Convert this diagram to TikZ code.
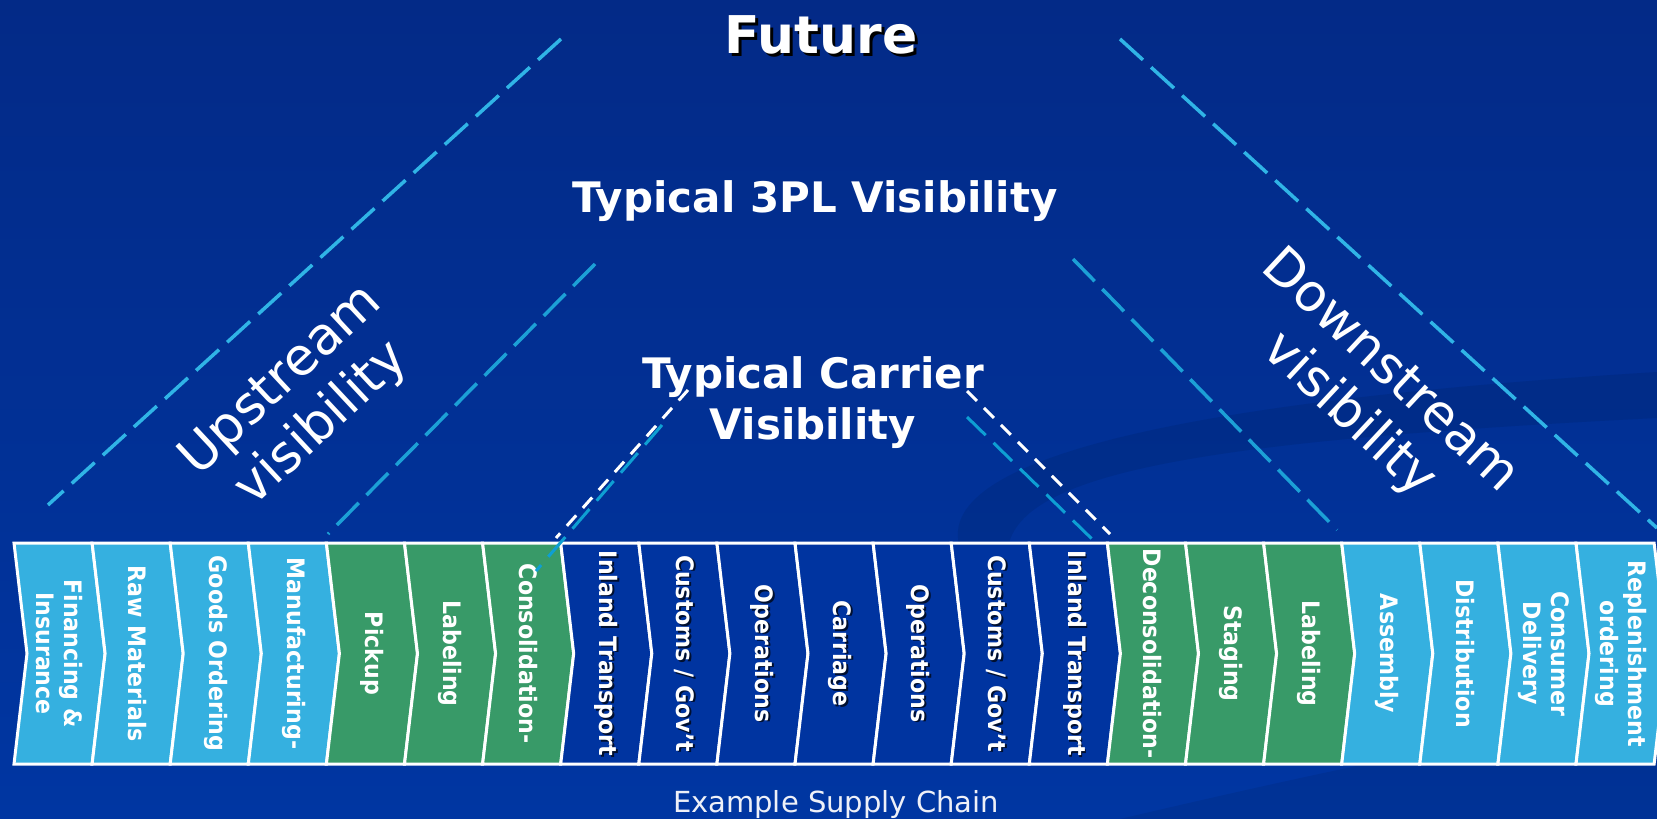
\documentclass[tikz,border=0pt]{standalone}
\usepackage{fontspec}
\setmainfont{DejaVu Sans}
\newfontfamily\chevfont{DejaVu Sans}[FakeStretch=0.92]
\usetikzlibrary{calc}
\definecolor{bgtop}{HTML}{032A87}
\definecolor{bgbot}{HTML}{0036A2}
\definecolor{lb}{HTML}{35B0E0}
\definecolor{gr}{HTML}{389A68}
\definecolor{db}{HTML}{0034A0}
\definecolor{futline}{HTML}{30B4E6}
\definecolor{tplline}{HTML}{1CA0D6}
\definecolor{carline}{HTML}{0E9FD3}
\definecolor{capt}{HTML}{EEF0F8}
\begin{document}
\begin{tikzpicture}[x=1pt,y=-1pt,
  chevbox/.style={draw=white, line width=3pt, line join=miter},
  chevtext/.style={text=white, font=\chevfont\bfseries\fontsize{24}{28}\selectfont, align=center, rotate=-90, inner sep=0pt},
  sidetext/.style={text=white, font=\fontsize{52}{60}\selectfont, align=center, inner sep=0pt},
  titletext/.style={text=white, font=\bfseries\fontsize{42}{51}\selectfont, align=center, inner sep=0pt},
  longdash/.style={line width=3.5pt, dash pattern=on 31pt off 11pt},
  shortdash/.style={line width=3pt, dash pattern=on 14pt off 10pt, white}
]
\useasboundingbox (0,0) rectangle (1657,819);
\clip (0,0) rectangle (1657,819);
\shade[top color=bgtop, bottom color=bgbot] (0,0) rectangle (1657,819);
% faint background swirl
\fill[black, opacity=0.08] (960,548) .. controls (935,470) and (1120,405) .. (1657,372) -- (1657,418) .. controls (1220,440) and (1020,470) .. (1008,548) -- cycle;
\fill[black, opacity=0.07] (1120,819) .. controls (1350,765) and (1500,735) .. (1657,712) -- (1657,819) -- cycle;
% chevrons
\foreach \lab/\col/\op [count=\i from 0] in {
  {Financing \&\\Insurance}/lb/0, {Raw Materials}/lb/0, {Goods Ordering}/lb/0, {Manufacturing-}/lb/0,
  {Pickup}/gr/0, {Labeling}/gr/0, {Consolidation-}/gr/0,
  {Inland Transport}/db/0.7, {Customs / Gov’t}/db/0.7, {Operations}/db/0.7, {Carriage}/db/0.7,
  {Operations}/db/0.7, {Customs / Gov’t}/db/0.7, {Inland Transport}/db/0.7,
  {Deconsolidation-}/gr/0, {Staging}/gr/0, {Labeling}/gr/0,
  {Assembly}/lb/0, {Distribution}/lb/0, {Consumer\\Delivery}/lb/0, {Replenishment\\ordering}/lb/0} {
  \pgfmathsetmacro\xa{14+\i*78.1}
  \pgfmathsetmacro\xb{\xa+78.1}
  \draw[chevbox, fill=\col] (\xa,543) -- (\xb,543) -- (\xb+13,653.5) -- (\xb,764) -- (\xa,764) -- (\xa+13,653.5) -- cycle;
  \node[chevtext, text=black, opacity=\op] (s\i) at (\xa+47,655) {\lab};
  \node[chevtext] (c\i) at (\xa+45.5,653.5) {\lab};
}
% visibility lines
\coordinate (fl1) at (561,39);   \coordinate (fl2) at (48,505);
\coordinate (fr1) at (1120,39);  \coordinate (fr2) at (1657,528);
\coordinate (tl1) at (595,264);  \coordinate (tl2) at (328,534);
\coordinate (tr1) at (1073,259); \coordinate (tr2) at (1337,530);
\coordinate (cwl1) at (688,390); \coordinate (cwl2) at (556,538);
\coordinate (ccl1) at (662,425); \coordinate (ccl2) at (536,571);
\coordinate (cwr1) at (967,391); \coordinate (cwr2) at (1110,534);
\coordinate (ccr1) at (967,417); \coordinate (ccr2) at (1093,540);
\draw[longdash, futline] (fl1) -- (fl2);
\draw[longdash, futline] (fr1) -- (fr2);
\draw[longdash, tplline] (tl1) -- (tl2);
\draw[longdash, tplline] (tr1) -- (tr2);
\draw[longdash, carline, line width=3pt, dash pattern=on 26pt off 11pt] (ccl1) -- (ccl2);
\draw[longdash, carline, line width=3pt, dash pattern=on 26pt off 11pt] (ccr1) -- (ccr2);
\draw[shortdash] (cwl1) -- (cwl2);
\draw[shortdash] (cwr1) -- (cwr2);
% titles
\node[titletext, text=black, font=\bfseries\fontsize{52}{60}\selectfont, anchor=base] (futs) at (824,56) {Future};
\node[titletext, font=\bfseries\fontsize{52}{60}\selectfont, anchor=base] (fut) at (821,53) {Future};
\node[titletext, anchor=base] (tpl) at (815,212) {Typical 3PL Visibility};
\node[titletext, anchor=north] (car) at (813,356) {Typical Carrier\\Visibility};
\node[sidetext, rotate=43] (up) at (302,403) {Upstream\\visibility};
\node[sidetext, rotate=-43] (down) at (1369,394) {Downstream\\visibility};
\node[text=capt, font=\fontsize{29}{34}\selectfont, anchor=base, inner sep=0pt] (ex) at (836,812) {Example Supply Chain};
\end{tikzpicture}
\end{document}
